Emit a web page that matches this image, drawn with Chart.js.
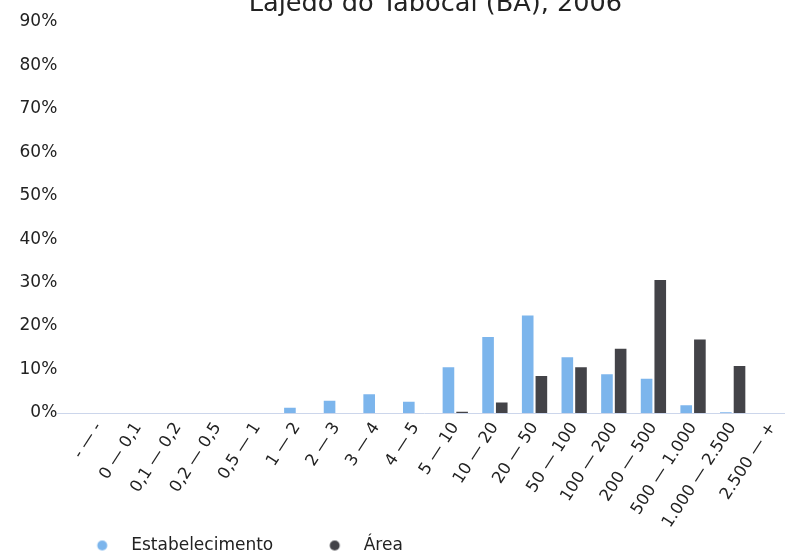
<!DOCTYPE html>
<html>
<head>
<meta charset="utf-8">
<title>Lajedo do Tabocal (BA), 2006</title>
<script src="https://cdn.jsdelivr.net/npm/chart.js"></script>
<style>
  html, body { margin: 0; padding: 0; overflow: hidden; background: #fff; }
  #wrap { width: 795px; height: 574px; margin-top: -10px; }
</style>
</head>
<body>
<div id="wrap"><canvas id="chart"></canvas></div>
<script>
// faixas de área (ha)
const categories = [
  "- — -", "0 — 0,1", "0,1 — 0,2", "0,2 — 0,5", "0,5 — 1", "1 — 2", "2 — 3", "3 — 4", "4 — 5",
  "5 — 10", "10 — 20", "20 — 50", "50 — 100", "100 — 200", "200 — 500", "500 — 1.000",
  "1.000 — 2.500", "2.500 — +"
];

// % dos estabelecimentos e % da área
const estabelecimento = [0, 0, 0, 0, 0, 1.2, 2.8, 4.3, 2.6, 10.5, 17.5, 22.4, 12.8, 8.9, 7.9, 1.8, 0.15, 0];
const area = [0, 0, 0, 0, 0, 0, 0, 0, 0, 0.3, 2.4, 8.5, 10.5, 14.8, 30.6, 16.9, 10.8, 0];

const yMax = 90;
const yStep = 10;

const colors = ["#7cb5ec", "#434348"];

Chart.defaults.font.family = "'DejaVu Sans', sans-serif";
Chart.defaults.color = "#222";

// marcador da legenda: círculo dentro de uma caixa mais larga
function legendDot(color) {
  const c = document.createElement("canvas");
  c.width = 72;
  c.height = 12;
  const g = c.getContext("2d");
  g.fillStyle = color;
  g.beginPath();
  g.arc(51.5, 6, 5, 0, Math.PI * 2);
  g.fill();
  return c;
}
const dots = colors.map(legendDot);

// linha do eixo em 0%
const baseline = {
  id: "baseline",
  afterDatasetsDraw(chart) {
    const { ctx, scales: { x, y } } = chart;
    const py = Math.round(y.getPixelForValue(0)) + 0.5;
    ctx.save();
    ctx.strokeStyle = "#ccd6eb";
    ctx.lineWidth = 1;
    ctx.beginPath();
    ctx.moveTo(y.right - y.options.ticks.padding, py);
    ctx.lineTo(x.right, py);
    ctx.stroke();
    ctx.restore();
  }
};

// legenda começa mais à direita
const legendShift = {
  id: "legendShift",
  afterLayout(chart) {
    chart.legend.left += 40.7;
  }
};

new Chart(document.getElementById("chart"), {
  type: "bar",
  data: {
    labels: categories,
    datasets: [
      { label: "Estabelecimento", data: estabelecimento, backgroundColor: colors[0] },
      { label: "Área", data: area, backgroundColor: colors[1] }
    ]
  },
  options: {
    responsive: true,
    maintainAspectRatio: false,
    animation: false,
    layout: { padding: { left: 0, top: -10, right: 0, bottom: 0 } },
    datasets: {
      bar: { barPercentage: 0.85, categoryPercentage: 0.69, borderWidth: 0 }
    },
    plugins: {
      title: {
        display: true,
        text: "Lajedo do Tabocal (BA), 2006",
        fullSize: false,
        color: "#222",
        font: { size: 25.6, weight: "normal" },
        padding: { top: -12, bottom: 1.5 }
      },
      legend: {
        position: "bottom",
        align: "start",
        labels: {
          usePointStyle: true,
          pointStyleWidth: 72,
          padding: 10,
          color: "#222",
          font: { size: 17 },
          generateLabels(chart) {
            const items = Chart.defaults.plugins.legend.labels.generateLabels(chart);
            items.forEach((it, i) => { it.pointStyle = dots[i]; });
            return items;
          }
        }
      },
      tooltip: { enabled: false }
    },
    scales: {
      x: {
        grid: { display: false, drawTicks: false },
        border: { display: false },
        ticks: {
          autoSkip: false,
          minRotation: 57,
          maxRotation: 57,
          padding: 6,
          font: { size: 16.5 }
        },
        afterFit(scale) { scale.height = 114; }
      },
      y: {
        min: 0,
        max: yMax,
        grid: { display: false, drawTicks: false },
        border: { display: false },
        ticks: {
          stepSize: yStep,
          padding: 21.5,
          font: { size: 17 },
          callback: v => v + "%"
        },
        afterFit(scale) { scale.width = 78.8; }
      }
    }
  },
  plugins: [baseline, legendShift]
});
</script>
</body>
</html>
